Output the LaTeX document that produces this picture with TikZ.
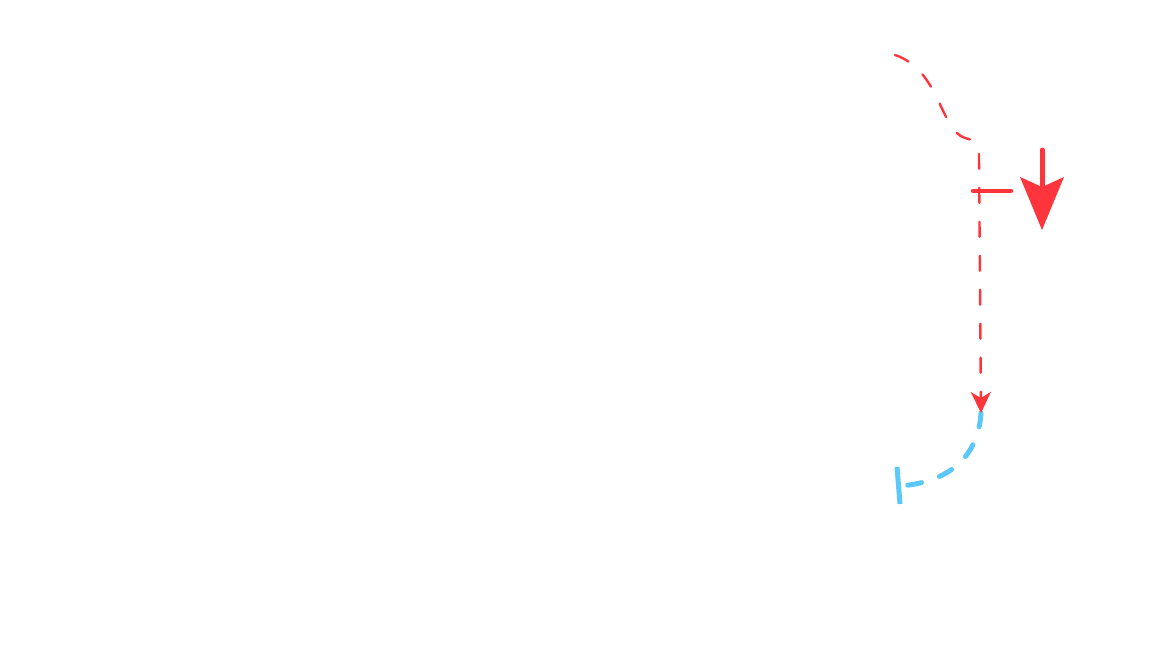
\documentclass[tikz,border=0pt]{standalone}
\usetikzlibrary{arrows.meta}
\definecolor{cred}{HTML}{FF353D}
\definecolor{cblue}{HTML}{5CC8FA}
\begin{document}
\begin{tikzpicture}[x=1pt,y=-1pt,
  reddash/.style={draw=cred,line width=2.4pt,line cap=round,dash pattern=on 15pt off 19pt},
  bluedash/.style={draw=cblue,line width=5pt,line cap=round,dash pattern=on 14pt off 19pt},
  redbar/.style={draw=cred,line width=4.5pt,line cap=round},
  bluetick/.style={draw=cblue,line width=5pt},
  redhead/.style={fill=cred}]
\useasboundingbox (0,0) rectangle (1160,653);
% named points
\coordinate (rs) at (895,55);
\coordinate (rm) at (965,138);
\coordinate (rc) at (979,158);
\coordinate (re) at (981,413);
\coordinate (be) at (899,486);
\coordinate (t1) at (897,467);
\coordinate (t2) at (900,504);
\coordinate (b1) at (973,191);
\coordinate (b2) at (1011,191);
\coordinate (a1) at (1042,150);
\coordinate (a2) at (1042,189);
\coordinate (hl) at (1020,177);
\coordinate (hr) at (1064,177);
\coordinate (ht) at (1042,230);
% blue dashed
\path[bluedash] (re) .. controls (978,460) and (945,483) .. (be);
\path[bluetick] (t1) -- (t2);
% red dashed with tip
\path[reddash,-{Stealth[length=21pt,width=20pt,inset=6pt]}]
  (rs) .. controls (940,70) and (940,130) .. (rm)
  .. controls (979,142) .. (rc) -- (re);
% bar
\path[redbar] (b1) -- (b2);
% big arrow
\path[redbar,line width=5pt] (a1) -- (a2);
\path[redhead] (hl) -- (a2 |- 0,187) -- (hr) -- (ht) -- cycle;
\end{tikzpicture}
\end{document}
